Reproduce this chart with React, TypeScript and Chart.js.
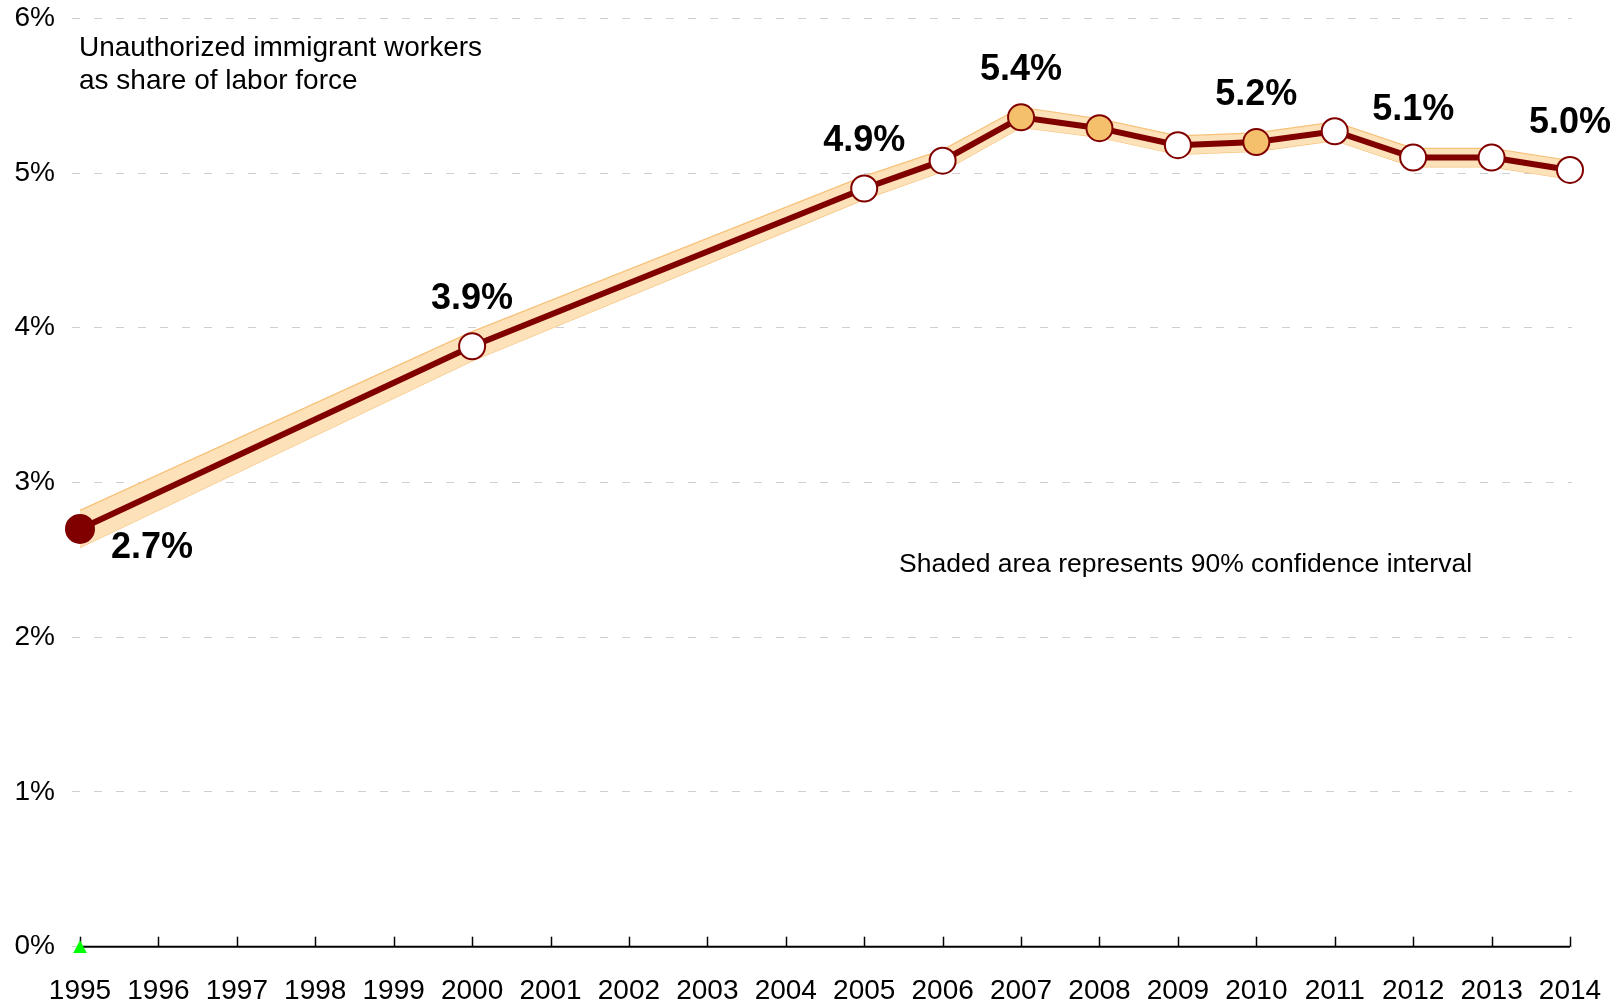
import React, { useEffect, useRef } from "react";
import { Chart, registerables } from "chart.js";

Chart.register(...registerables);

// ---- Data ----
const tickYears = [1995, 1996, 1997, 1998, 1999, 2000, 2001, 2002, 2003, 2004, 2005, 2006, 2007, 2008, 2009, 2010, 2011, 2012, 2013, 2014];
const dataYears = [1995, 2000, 2005, 2006, 2007, 2008, 2009, 2010, 2011, 2012, 2013, 2014];
const shareValues = [2.7, 3.88, 4.9, 5.08, 5.36, 5.29, 5.18, 5.2, 5.27, 5.1, 5.1, 5.02];
const ciHigh = [2.82, 3.975, 4.98, 5.15, 5.425, 5.35, 5.24, 5.26, 5.33, 5.16, 5.16, 5.08];
const ciLow = [2.58, 3.785, 4.83, 5.01, 5.295, 5.23, 5.12, 5.14, 5.21, 5.04, 5.04, 4.96];
const labeledYears = [1995, 2000, 2005, 2007, 2010, 2012, 2014];
const highlightedYears = [2007, 2008, 2010];
const yTickValues = [0, 1, 2, 3, 4, 5, 6];
const titleLines = ["Unauthorized immigrant workers", "as share of labor force"];
const noteText = "Shaded area represents 90% confidence interval";

const FONT = "'Liberation Sans', Arial, Helvetica, sans-serif";
const DARK_RED = "#800000";
const ORANGE = "#f4c06b";

function makeTriangle(): HTMLCanvasElement {
  const c = document.createElement("canvas");
  c.width = 14;
  c.height = 13;
  const g = c.getContext("2d");
  if (g) {
    g.fillStyle = "#00ff00";
    g.beginPath();
    g.moveTo(7, 0);
    g.lineTo(14, 13);
    g.lineTo(0, 13);
    g.closePath();
    g.fill();
  }
  return c;
}

export default function App() {
  const ref = useRef<HTMLCanvasElement | null>(null);

  useEffect(() => {
    const canvas = ref.current;
    if (!canvas) return;

    const pts = (vals: number[]) => dataYears.map((x, i) => ({ x, y: vals[i] }));

    const fills = dataYears.map((y, i) =>
      i === 0 ? DARK_RED : highlightedYears.includes(y) ? ORANGE : "#ffffff"
    );
    const radii = dataYears.map((_, i) => (i === 0 ? 14 : 13));

    const decorPlugin = {
      id: "decor",
      beforeDatasetsDraw(chart: any) {
        const { ctx, scales } = chart;
        const xs = scales.x;
        const ys = scales.y;
        const y0 = ys.getPixelForValue(0);
        ctx.save();
        ctx.strokeStyle = "#000";
        ctx.lineWidth = 2;
        ctx.beginPath();
        ctx.moveTo(xs.getPixelForValue(tickYears[0]), y0);
        ctx.lineTo(xs.getPixelForValue(tickYears[tickYears.length - 1]), y0);
        ctx.stroke();
        ctx.lineWidth = 1.5;
        tickYears.forEach((yr) => {
          const px = Math.round(xs.getPixelForValue(yr)) + 0.5;
          ctx.beginPath();
          ctx.moveTo(px, y0);
          ctx.lineTo(px, y0 - 10);
          ctx.stroke();
        });
        ctx.restore();
      },
      afterDatasetsDraw(chart: any) {
        const { ctx, scales } = chart;
        const xs = scales.x;
        const meta = chart.getDatasetMeta(0);
        ctx.save();
        ctx.fillStyle = "#000";
        // value labels
        ctx.font = `bold 36px ${FONT}`;
        ctx.textAlign = "center";
        ctx.textBaseline = "middle";
        dataYears.forEach((yr, i) => {
          if (!labeledYears.includes(yr)) return;
          const el = meta.data[i];
          const txt = shareValues[i].toFixed(1) + "%";
          if (i === 0) {
            ctx.fillText(txt, el.x + 72, el.y + 19);
          } else {
            ctx.fillText(txt, el.x, el.y - 47);
          }
        });
        // title text
        ctx.font = `28px ${FONT}`;
        ctx.textAlign = "left";
        const left = xs.getPixelForValue(tickYears[0]) - 1;
        titleLines.forEach((line, k) => {
          ctx.fillText(line, left, 48 + k * 33);
        });
        ctx.font = `26.5px ${FONT}`;
        ctx.fillText(noteText, 899, 565);
        ctx.restore();
      },
    };

    const zeroPad = (scale: any) => {
      scale.paddingTop = 0;
      scale.paddingBottom = 0;
      scale.paddingLeft = 0;
      scale.paddingRight = 0;
    };

    const chart = new Chart(canvas, {
      type: "line",
      data: {
        datasets: [
          {
            data: pts(shareValues),
            borderColor: DARK_RED,
            borderWidth: 6,
            pointRadius: radii,
            pointBackgroundColor: fills,
            pointBorderColor: DARK_RED,
            pointBorderWidth: 2,
            tension: 0,
            fill: false,
            order: 0,
            clip: false,
          } as any,
          {
            data: pts(ciHigh),
            borderColor: "#f6c27a",
            borderWidth: 1.2,
            backgroundColor: "#fde1b8",
            pointRadius: 0,
            tension: 0,
            fill: "+1",
            order: 2,
            clip: false,
          },
          {
            data: pts(ciLow),
            borderColor: "#f6c27a",
            borderWidth: 1.2,
            pointRadius: 0,
            tension: 0,
            fill: false,
            order: 2,
            clip: false,
          },
          {
            data: [{ x: tickYears[0], y: 0 }],
            showLine: false,
            pointStyle: makeTriangle(),
            pointRadius: 7,
            order: -1,
            clip: false,
          } as any,
        ],
      },
      options: {
        animation: false,
        responsive: false,
        events: [],
        layout: { padding: { top: 18.3, right: 52, left: 0, bottom: 0 } },
        plugins: {
          legend: { display: false },
          tooltip: { enabled: false },
        },
        scales: {
          x: {
            type: "linear",
            min: 1994.898,
            max: 2014.0255,
            grid: { display: false, drawTicks: false },
            border: { display: false },
            afterBuildTicks: (scale: any) => {
              scale.ticks = tickYears.map((v) => ({ value: v }));
            },
            afterFit: (scale: any) => {
              scale.height = 58.3;
              zeroPad(scale);
            },
            ticks: {
              autoSkip: false,
              maxRotation: 0,
              padding: 28,
              color: "#000",
              font: { family: FONT, size: 28 },
              callback: (v: any) => String(v),
            },
          },
          y: {
            min: 0,
            max: 6,
            afterBuildTicks: (scale: any) => {
              scale.ticks = yTickValues.map((v) => ({ value: v }));
            },
            afterFit: (scale: any) => {
              scale.width = 72;
              zeroPad(scale);
            },
            grid: { color: "#cfcfcf", lineWidth: 1, drawTicks: false },
            border: { display: false, dash: [8, 14] },
            ticks: {
              padding: 17,
              color: "#000",
              font: { family: FONT, size: 28 },
              callback: (v: any) => v + "%",
            },
          },
        },
      },
      plugins: [decorPlugin],
    });

    return () => chart.destroy();
  }, []);

  return (
    <div style={{ position: "absolute", left: 0, top: 0, width: 1624, height: 1005, background: "#fff" }}>
      <canvas ref={ref} width={1624} height={1005} style={{ display: "block" }} />
    </div>
  );
}
